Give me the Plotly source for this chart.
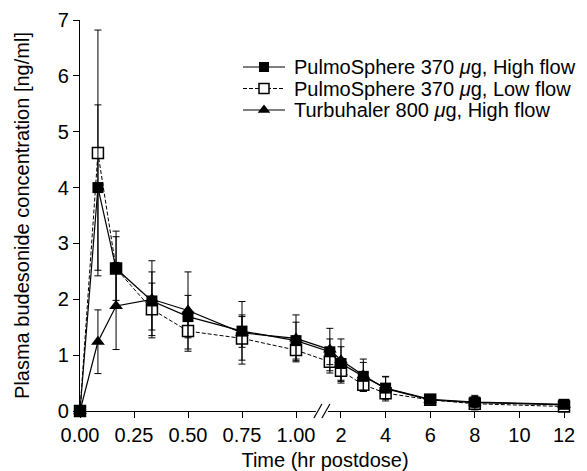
import plotly.graph_objects as go

# ---- data ----
times = [0, 0.083, 0.167, 0.333, 0.5, 0.75, 1.0, 1.5, 2, 3, 4, 6, 8, 12]

hf_mean = [0, 4.00, 2.55, 1.97, 1.69, 1.43, 1.26, 1.06, 0.85, 0.62, 0.41, 0.21, 0.16, 0.12]
hf_sd   = [0, 1.48, 0.67, 0.52, 0.38, 0.29, 0.33, 0.23, 0.30, 0.25, 0.20, 0.08, 0.10, 0.05]

lf_mean = [0, 4.62, 2.55, 1.82, 1.43, 1.30, 1.09, 0.88, 0.72, 0.47, 0.32, 0.20, 0.13, 0.08]
lf_sd   = [0, 2.20, 0.57, 0.47, 0.36, 0.39, 0.19, 0.20, 0.22, 0.12, 0.08, 0.06, 0.06, 0.04]

th_mean = [0, 1.24, 1.88, 2.00, 1.80, 1.40, 1.30, 1.10, 0.91, 0.64, 0.40, 0.20, 0.15, 0.11]
th_sd   = [0, 0.57, 0.78, 0.69, 0.69, 0.56, 0.42, 0.38, 0.38, 0.29, 0.22, 0.07, 0.13, 0.05]

series_names = ["PulmoSphere 370 <i>μ</i>g, High flow",
                "PulmoSphere 370 <i>μ</i>g, Low flow",
                "Turbuhaler 800 <i>μ</i>g, High flow"]

x_tick_values = [0, 0.25, 0.5, 0.75, 1.0, 2, 4, 6, 8, 10, 12]
x_tick_labels = ["0.00", "0.25", "0.50", "0.75", "1.00", "2", "4", "6", "8", "10", "12"]
y_tick_values = [0, 1, 2, 3, 4, 5, 6, 7]

# broken time axis: 0-1 h linear, then compressed scale from 1.5 h on
BREAK_T2 = 1.2083      # axis position of t = 2 h
LATE_SCALE = 22.3 / 216.0
BREAK_POS = 1.12


def tx(t):
    return t if t <= 1.0 else BREAK_T2 + (t - 2.0) * LATE_SCALE


xs = [tx(t) for t in times]
FONT = "Liberation Sans, Arial, Helvetica, sans-serif"
FS = 20

LINE_LF = dict(color="black", width=1, dash="4px,2px")
LINE_SOLID = dict(color="black", width=1.2)
MK_HF = dict(symbol="square", size=11, color="black")
MK_LF = dict(symbol="square", size=11, color="white", line=dict(width=1.5, color="black"))
MK_TH = dict(symbol="triangle-up", size=12, color="black")

fig = go.Figure()

fig.add_trace(go.Scatter(
    x=xs, y=lf_mean, mode="lines+markers", name=series_names[1],
    line=LINE_LF, marker=MK_LF,
    error_y=dict(type="data", array=lf_sd, color="black", thickness=1, width=3.5),
    cliponaxis=False, showlegend=False,
))
fig.add_trace(go.Scatter(
    x=xs, y=hf_mean, mode="lines+markers", name=series_names[0],
    line=LINE_SOLID, marker=MK_HF,
    error_y=dict(type="data", array=hf_sd, color="black", thickness=1, width=3.5),
    cliponaxis=False, showlegend=False,
))
fig.add_trace(go.Scatter(
    x=xs, y=th_mean, mode="lines+markers", name=series_names[2],
    line=LINE_SOLID, marker=MK_TH,
    error_y=dict(type="data", array=th_sd, color="black", thickness=1, width=3.5),
    cliponaxis=False, showlegend=False,
))

# compact legend drawn on an overlay pixel-space axis
legend_rows_y = [67, 88.5, 110]
legend_styles = [(LINE_SOLID, MK_HF), (LINE_LF, MK_LF), (LINE_SOLID, MK_TH)]
for name, row_y, (ln, mk) in zip(series_names, legend_rows_y, legend_styles):
    fig.add_trace(go.Scatter(
        x=[243, 285], y=[row_y, row_y], mode="lines", line=ln,
        xaxis="x2", yaxis="y2", showlegend=False, hoverinfo="skip", cliponaxis=False))
    fig.add_trace(go.Scatter(
        x=[264], y=[row_y], mode="markers", marker=dict(mk, size=mk["size"] - 1),
        xaxis="x2", yaxis="y2", showlegend=False, hoverinfo="skip", cliponaxis=False))
    fig.add_annotation(x=292, y=row_y, xref="x2", yref="y2", text=name, showarrow=False,
                       xanchor="left", yanchor="middle", font=dict(size=FS))

# axis break marks
fig.add_shape(type="rect", xref="x", yref="paper", xsizemode="pixel", ysizemode="pixel",
              xanchor=BREAK_POS, yanchor=0, x0=-6, x1=6, y0=-2, y1=2,
              fillcolor="white", line=dict(width=0), layer="above")
for dx in (-4, 4):
    fig.add_shape(type="line", xref="x", yref="paper", xsizemode="pixel", ysizemode="pixel",
                  xanchor=BREAK_POS, yanchor=0, x0=dx - 4, x1=dx + 4, y0=-7, y1=7,
                  line=dict(color="black", width=1.2), layer="above")

fig.update_layout(
    width=587, height=471,
    margin=dict(l=80, r=17, t=20, b=60),
    paper_bgcolor="white", plot_bgcolor="white",
    font=dict(family=FONT, size=FS, color="black"),
    showlegend=False,
    xaxis=dict(
        range=[0, 2.2685], tickmode="array",
        tickvals=[tx(v) for v in x_tick_values], ticktext=x_tick_labels,
        showline=True, linecolor="black", linewidth=1.3,
        ticks="outside", ticklen=6, tickwidth=1.3, tickcolor="black",
        showgrid=False, zeroline=False, automargin=False,
        title=dict(text="Time (hr postdose)", font=dict(size=FS), standoff=8),
    ),
    yaxis=dict(
        range=[0, 7], tickmode="array", tickvals=y_tick_values,
        showline=True, linecolor="black", linewidth=1.3,
        ticks="outside", ticklen=6, tickwidth=1.3, tickcolor="black",
        showgrid=False, zeroline=False, automargin=False,
        title=dict(text="Plasma budesonide concentration [ng/ml]", font=dict(size=FS), standoff=22),
    ),
    xaxis2=dict(overlaying="x", range=[80, 570], visible=False, fixedrange=True),
    yaxis2=dict(overlaying="y", range=[411, 20], visible=False, fixedrange=True),
)

fig.write_html("out.html", config={"displayModeBar": False},
               post_script="document.body.style.margin='0';document.body.style.padding='0';")
